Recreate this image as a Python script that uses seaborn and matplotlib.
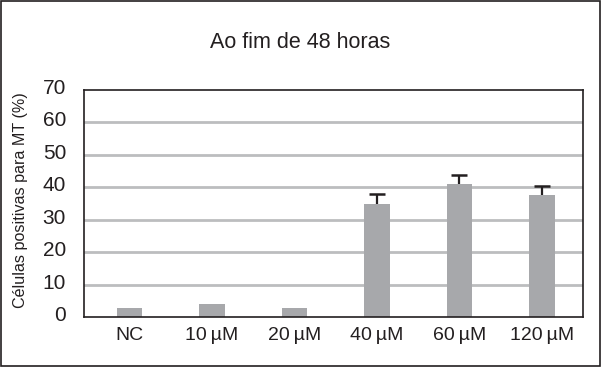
import matplotlib
matplotlib.use("Agg")
import matplotlib.pyplot as plt
import matplotlib.transforms as mtransforms
import seaborn as sns
import pandas as pd
import numpy as np
from matplotlib.patches import Rectangle

categories = ["NC", "10\u2009µM", "20\u2009µM", "40\u2009µM", "60\u2009µM", "120\u2009µM"]
values = [2.8, 4.0, 2.8, 35.0, 41.0, 37.7]
errors = [0, 0, 0, 2.8, 2.8, 2.6]
yticks = [0, 10, 20, 30, 40, 50, 60, 70]

sns.set_theme(style="white")
plt.rcParams['font.family'] = ['Liberation Sans', 'DejaVu Sans']

fig = plt.figure(figsize=(6.01, 3.67), dpi=100)
ax = fig.add_axes([0.140, 0.136, 0.830, 0.619])

df = pd.DataFrame({"cat": categories, "val": values})
sns.barplot(data=df, x="cat", y="val", color="#a7a8ab", saturation=1,
            width=0.31, ax=ax, errorbar=None)
for p in ax.patches:
    p.set_edgecolor("none")

xs = np.arange(len(categories))
vals = np.array(values)
errs = np.array(errors)
mask = errs > 0
ax.vlines(xs[mask], vals[mask], vals[mask] + errs[mask], color="#231f20", lw=1.6, zorder=5)
ax.plot(xs[mask], vals[mask] + errs[mask], linestyle="none", marker="_",
        markersize=11, markeredgewidth=1.8, color="#231f20", zorder=5)

ax.set_ylim(0, 70)
ax.set_xlim(-0.55, 5.5)
ax.set_yticks(yticks)
ax.set_yticklabels([str(t) for t in yticks], fontsize=15, color="#231f20")
ax.tick_params(axis="x", labelsize=14, colors="#231f20", length=0, pad=7)
ax.tick_params(axis="y", length=0, pad=13)
shift = mtransforms.ScaledTranslation(0, 3.5 / 100, fig.dpi_scale_trans)
for lbl in ax.get_yticklabels():
    lbl.set_transform(lbl.get_transform() + shift)
ax.set_xlabel("")
ax.set_ylabel("Células positivas para MT (%)", fontsize=11.6, color="#231f20")
ax.yaxis.set_label_coords(-0.113, 0.515)
for t in yticks[1:-1]:
    ax.axhline(t, color="#bcbdbf", lw=2, zorder=0)
ax.set_axisbelow(True)
for s in ax.spines.values():
    s.set_color("#231f20")
    s.set_linewidth(1.2)

fig.text(0.5, 0.885, "Ao fim de 48 horas", ha="center", va="center",
         fontsize=15.5, color="#231f20")
fig.patches.append(Rectangle((0.001, 0.002), 0.997, 0.995, transform=fig.transFigure,
                             fill=False, edgecolor="#231f20", lw=1.2))
fig.savefig("out.png", dpi=100)
